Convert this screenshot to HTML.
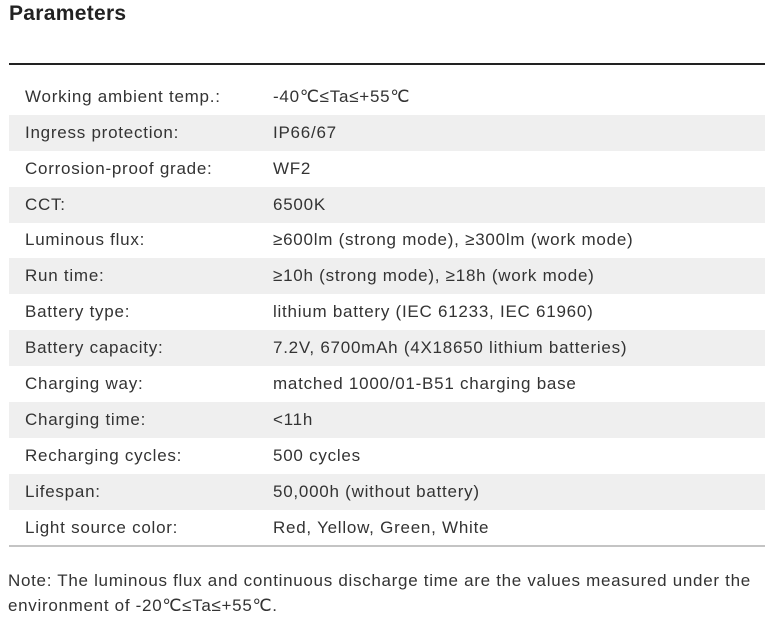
<!DOCTYPE html>
<html><head><style>
body{margin:0;width:779px;height:631px;background:#fff;font-family:"Liberation Sans",sans-serif;color:#333;position:relative;overflow:hidden}
h1{position:absolute;left:9px;top:2px;margin:0;font-size:21px;font-weight:bold;color:#222;letter-spacing:0.3px}
.top{position:absolute;left:9px;top:63px;width:756px;height:2px;background:#222}
.row{position:absolute;left:9px;width:756px;height:36px;font-size:17px;line-height:36px;letter-spacing:0.75px}
.row.g{background:#efefef}
.row span{position:absolute;left:16px}
.row b{position:absolute;left:264px;font-weight:normal}
.bot{position:absolute;left:9px;top:545px;width:756px;height:2px;background:#c4c4c4}
.note{position:absolute;left:8px;top:568px;font-size:17px;line-height:25px;width:775px;color:#333;letter-spacing:0.7px}
</style></head><body>
<h1>Parameters</h1>
<div class="top"></div>
<div class="row" style="top:79px"><span>Working ambient temp.:</span><b>-40℃≤Ta≤+55℃</b></div>
<div class="row g" style="top:115px"><span>Ingress protection:</span><b>IP66/67</b></div>
<div class="row" style="top:151px"><span>Corrosion-proof grade:</span><b>WF2</b></div>
<div class="row g" style="top:187px"><span>CCT:</span><b>6500K</b></div>
<div class="row" style="top:222px"><span>Luminous flux:</span><b>≥600lm (strong mode), ≥300lm (work mode)</b></div>
<div class="row g" style="top:258px"><span>Run time:</span><b>≥10h (strong mode), ≥18h (work mode)</b></div>
<div class="row" style="top:294px"><span>Battery type:</span><b>lithium battery (IEC 61233, IEC 61960)</b></div>
<div class="row g" style="top:330px"><span>Battery capacity:</span><b>7.2V, 6700mAh (4X18650 lithium batteries)</b></div>
<div class="row" style="top:366px"><span>Charging way:</span><b>matched 1000/01-B51 charging base</b></div>
<div class="row g" style="top:402px"><span>Charging time:</span><b>&lt;11h</b></div>
<div class="row" style="top:438px"><span>Recharging cycles:</span><b>500 cycles</b></div>
<div class="row g" style="top:474px"><span>Lifespan:</span><b>50,000h (without battery)</b></div>
<div class="row" style="top:510px"><span>Light source color:</span><b>Red, Yellow, Green, White</b></div>
<div class="bot"></div>
<div class="note">Note: The luminous flux and continuous discharge time are the values measured under the<br>environment of -20℃≤Ta≤+55℃.</div>
</body></html>
